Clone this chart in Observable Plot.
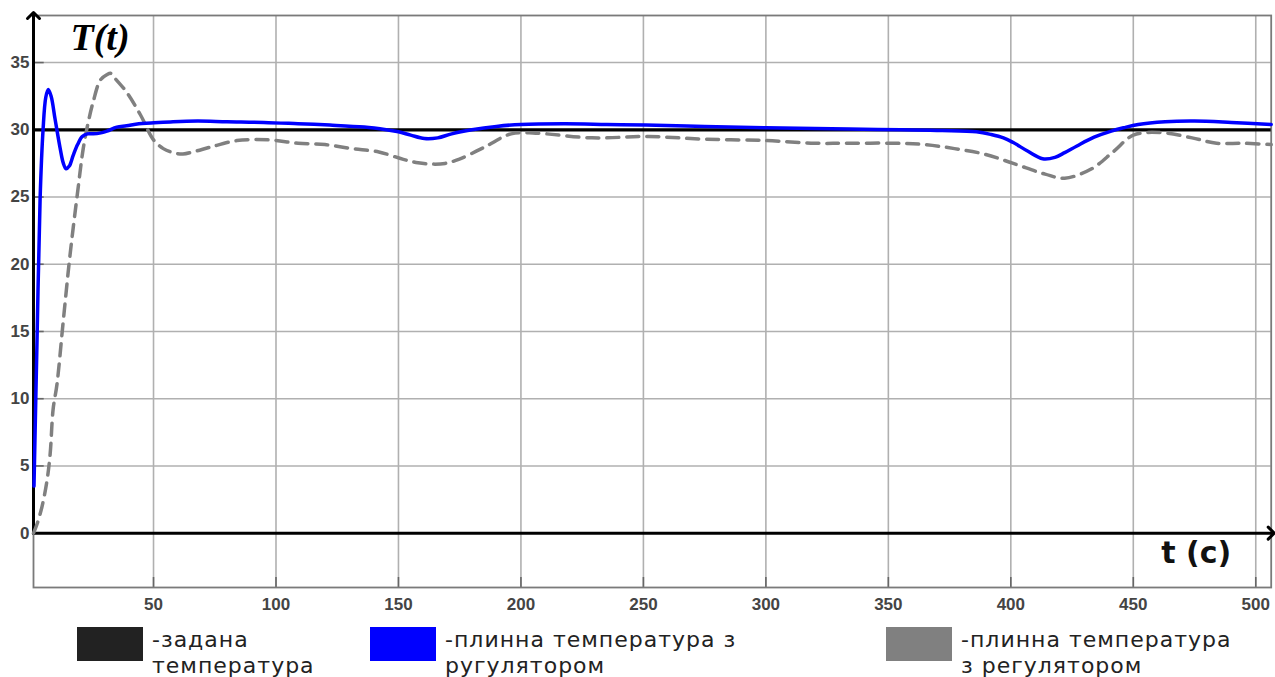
<!DOCTYPE html>
<html>
<head>
<meta charset="utf-8">
<script src="https://cdn.jsdelivr.net/npm/d3@7"></script>
<script src="https://cdn.jsdelivr.net/npm/@observablehq/plot@0.6"></script>
<style>
  html, body { margin: 0; padding: 0; background: #fff; }
  #wrap { position: relative; width: 1275px; height: 677px; overflow: hidden; }
  #chart svg { display: block; }
  .sw { position: absolute; top: 627px; width: 66px; height: 34px; }
  .lt { position: absolute; height: 26px; font-family: "DejaVu Sans", sans-serif; font-size: 22px; letter-spacing: 1px; line-height: 26px; color: #222; white-space: nowrap; }
</style>
</head>
<body>
<div id="wrap">
  <div id="chart"></div>
  <div id="legend"></div>
</div>
<script>
// ---- data ----
const timeBlue = [1.2, 2.4, 3.7, 4.9, 6.0, 7.0, 8.2, 9.8, 11.9, 13.2, 14.3, 15.6, 17.2, 19.0, 20.9, 23.0, 25.4, 28.0, 31.0, 35.0, 39.0, 44.0, 49.0, 58.0, 68.0, 80.0, 95.0, 109.0, 122.0, 136.0, 145.0, 150.0, 155.0, 160.6, 166.0, 171.7, 180.0, 190.0, 200.0, 218.0, 235.0, 251.0, 275.0, 300.0, 320.0, 334.0, 355.0, 372.0, 386.0, 392.0, 397.0, 401.0, 407.0, 413.0, 418.0, 422.0, 427.0, 434.0, 441.0, 446.0, 452.0, 463.0, 475.0, 490.0, 506.3];
const tempBlue = [3.5, 14.0, 24.9, 30.0, 32.4, 33.0, 32.5, 30.8, 28.6, 27.5, 27.1, 27.3, 28.1, 28.9, 29.5, 29.7, 29.7, 29.75, 29.9, 30.2, 30.3, 30.45, 30.5, 30.6, 30.65, 30.6, 30.55, 30.45, 30.35, 30.2, 30.0, 29.85, 29.6, 29.35, 29.4, 29.7, 30.0, 30.25, 30.4, 30.45, 30.4, 30.35, 30.25, 30.15, 30.1, 30.05, 30.0, 29.95, 29.85, 29.65, 29.4, 29.05, 28.4, 27.85, 27.95, 28.3, 28.8, 29.45, 29.9, 30.15, 30.4, 30.6, 30.65, 30.55, 30.4];

const timeGray = [1.0, 2.5, 4.5, 6.5, 7.8, 9.0, 10.6, 13.0, 15.5, 17.2, 18.9, 21.3, 23.4, 25.4, 28.3, 31.0, 32.5, 34.4, 39.0, 44.7, 50.0, 54.0, 58.0, 62.0, 67.0, 73.0, 84.0, 97.0, 109.0, 120.0, 131.0, 142.0, 152.0, 158.0, 163.5, 169.0, 174.6, 185.0, 196.0, 206.0, 229.0, 252.0, 275.0, 300.0, 320.0, 334.0, 352.0, 365.0, 377.0, 389.0, 401.0, 414.0, 422.0, 433.0, 442.0, 450.0, 461.0, 474.0, 484.0, 495.0, 506.3];
const tempGray = [0.0, 0.7, 2.0, 3.9, 5.9, 9.2, 11.1, 15.5, 20.0, 22.7, 25.2, 28.6, 30.6, 32.1, 33.7, 34.1, 34.2, 33.8, 32.8, 31.1, 29.25, 28.6, 28.3, 28.2, 28.4, 28.7, 29.2, 29.25, 29.0, 28.9, 28.6, 28.35, 27.8, 27.55, 27.45, 27.5, 27.8, 28.7, 29.7, 29.75, 29.4, 29.5, 29.3, 29.2, 29.0, 29.0, 29.0, 28.9, 28.6, 28.2, 27.5, 26.7, 26.4, 27.1, 28.4, 29.6, 29.8, 29.4, 29.0, 29.0, 28.9];

const setpoint = 30;
const xTicks = [50, 100, 150, 200, 250, 300, 350, 400, 450, 500];
const yTicks = [0, 5, 10, 15, 20, 25, 30, 35];
const xDomain = [1, 506.3];
const yDomain = [-4.04, 38.5];
const yTitle = "T(t)";
const xTitle = "t (c)";
const legendLabels = [["-задана", "температура"], ["-плинна температура з", "ругулятором"], ["-плинна температура", "з регулятором"]];

// ---- styles / layout ----
const legendColors = ["#222222", "#0000ff", "#808080"];
const legendLefts = [77, 370, 886];

const blue = timeBlue.map((t, i) => ({t, T: tempBlue[i]}));
const gray = timeGray.map((t, i) => ({t, T: tempGray[i]}));
const zeroAxis = [{t: xDomain[0], T: 0}, {t: xDomain[1], T: 0}];
const vertAxis = [{t: xDomain[0], T: 0}, {t: xDomain[0], T: yDomain[1]}];

const chart = Plot.plot({
  width: 1275,
  height: 620,
  marginLeft: 33,
  marginRight: 4.3,
  marginTop: 15,
  marginBottom: 33,
  x: {domain: xDomain},
  y: {domain: yDomain},
  style: {fontFamily: "'Liberation Sans', Arial, sans-serif", background: "white", color: "#444"},
  marks: [
    Plot.gridX(xTicks, {stroke: "#b0b0b0", strokeOpacity: 1, strokeWidth: 1.6}),
    Plot.gridY(yTicks, {stroke: "#b0b0b0", strokeOpacity: 1, strokeWidth: 1.6}),
    Plot.tickX(xTicks, {x: d => d, stroke: "#666", strokeWidth: 1.6, insetTop: 562}),
    Plot.tickY(yTicks, {y: d => d, stroke: "#666", strokeWidth: 1.6, insetRight: 1227}),
    Plot.frame({stroke: "#7a7a7a", strokeWidth: 1.8}),
    Plot.axisX(xTicks, {anchor: "bottom", tickSize: 0, tickPadding: 10, fontSize: 17, fontWeight: "bold", fill: "#444", label: null}),
    Plot.axisY(yTicks, {anchor: "left", tickSize: 0, tickPadding: 4, fontSize: 17, fontWeight: "bold", fill: "#444", label: null}),
    Plot.ruleY([setpoint], {stroke: "#000", strokeWidth: 3.2}),
    Plot.line(zeroAxis, {x: "t", y: "T", stroke: "#000", strokeWidth: 3, markerEnd: "arrow"}),
    Plot.line(vertAxis, {x: "t", y: "T", stroke: "#000", strokeWidth: 3, markerEnd: "arrow"}),
    Plot.line(gray, {x: "t", y: "T", stroke: "#808080", strokeWidth: 3.5, strokeDasharray: "12,8", curve: "catmull-rom"}),
    Plot.line(blue, {x: "t", y: "T", stroke: "#0000ff", strokeWidth: 3.5, curve: "catmull-rom"}),
    Plot.text([yTitle], {frameAnchor: "top-left", dx: 37, dy: 8, lineAnchor: "top", textAnchor: "start", fontFamily: "'Liberation Serif', 'Times New Roman', serif", fontStyle: "italic", fontWeight: "bold", fontSize: 38, fill: "#000"}),
    Plot.text([xTitle], {frameAnchor: "bottom-right", dx: -40, dy: -34.5, lineAnchor: "middle", textAnchor: "end", fontFamily: "'DejaVu Sans', sans-serif", fontWeight: "bold", fontSize: 30, fill: "#111"})
  ]
});
document.getElementById("chart").appendChild(chart);

const legend = document.getElementById("legend");
legendLabels.forEach((lines, i) => {
  const sw = document.createElement("div");
  sw.className = "sw";
  sw.style.left = legendLefts[i] + "px";
  sw.style.background = legendColors[i];
  legend.appendChild(sw);
  lines.forEach((line, j) => {
    const tx = document.createElement("div");
    tx.className = "lt";
    tx.style.left = (legendLefts[i] + 75) + "px";
    tx.style.top = (627 + j * 26) + "px";
    tx.textContent = line;
    legend.appendChild(tx);
  });
});
</script>
</body>
</html>
